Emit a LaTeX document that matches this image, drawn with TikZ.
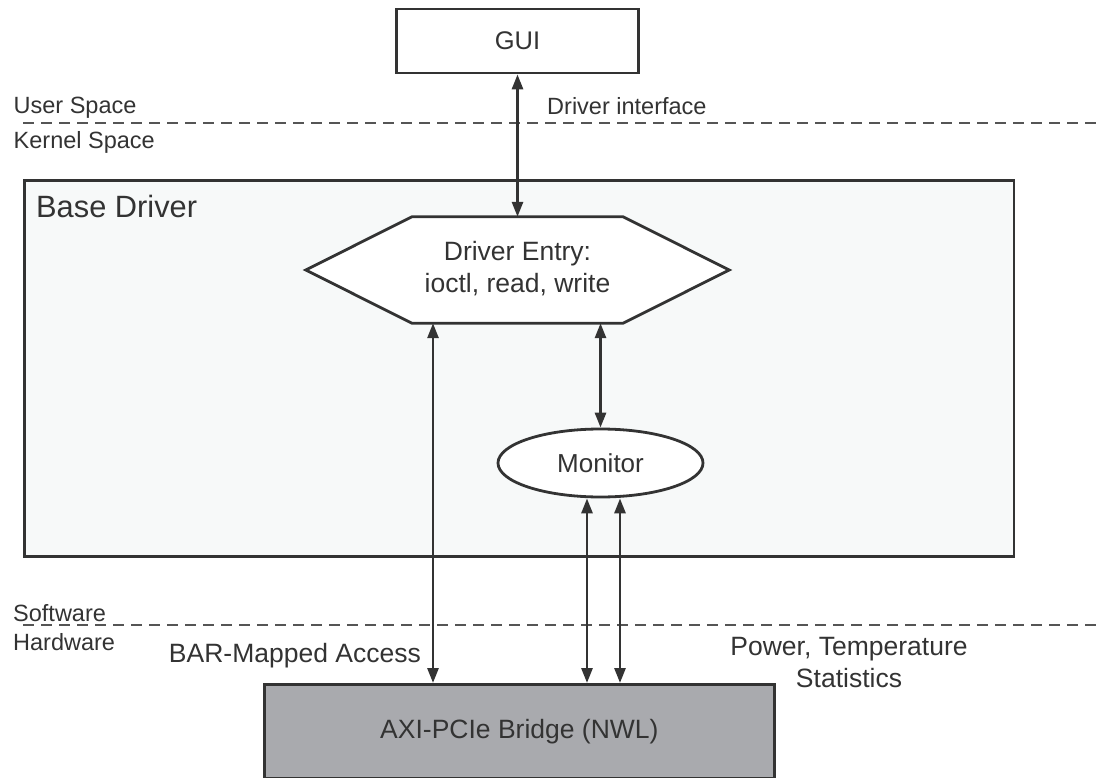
\documentclass[tikz,border=0pt]{standalone}
\usepackage{fontspec}
\setmainfont{Liberation Sans}
\usetikzlibrary{arrows.meta,shapes.geometric,calc}
\definecolor{ink}{HTML}{333333}
\definecolor{dashc}{HTML}{555555}
\definecolor{basefill}{HTML}{F7F9F9}
\definecolor{bridgefill}{HTML}{A9AAAE}
\newcommand{\fs}[1]{\fontsize{#1}{32}\selectfont}
\begin{document}
\begin{tikzpicture}[x=1pt,y=-1pt,
  every node/.style={text=ink, inner sep=0pt},
  box/.style={draw=ink, line width=2.8pt},
  biarrow/.style={draw=ink, line width=2.8pt, {Triangle[length=15pt,width=11pt]}-{Triangle[length=15pt,width=11pt]}},
  divider/.style={draw=dashc, line width=1.3pt, dash pattern=on 11pt off 7pt},
  sidelabel/.style={anchor=base west, font=\fs{23.5}},
  lbl/.style={font=\fs{26.5}}]

\useasboundingbox (0,0) rectangle (1097,778);

% base driver box
\node[box, fill=basefill, minimum width=989.5pt, minimum height=376pt, anchor=north west] (base) at (23,179) {};
\node[anchor=base west, font=\fs{30.8}] (bd) at (36,218) {Base Driver};

% dividers
\coordinate (d1a) at (23,123);
\coordinate (d1b) at (1097,123);
\coordinate (d2a) at (23,625);
\coordinate (d2b) at (1097,625);
\draw[divider] (d1a) -- (d1b);
\draw[divider] (d2a) -- (d2b);

% GUI
\node[box, fill=white, minimum width=242pt, minimum height=64pt, font=\fs{25.5}] (gui) at (517.5,41) {GUI};

% hexagon
\node[minimum width=423pt, minimum height=106pt] (hexframe) at (517.5,270) {};
\draw[box, fill=white] (hexframe.west) -- ($(hexframe.north west)+(106,0)$) -- ($(hexframe.north east)+(-106,0)$)
  -- (hexframe.east) -- ($(hexframe.south east)+(-106,0)$) -- ($(hexframe.south west)+(106,0)$) -- cycle;
\node[align=center, lbl] (hex) at (517.5,269) {Driver Entry:\\ioctl, read, write};

% monitor
\node[box, ellipse, fill=white, minimum width=205pt, minimum height=68pt, font=\fs{26}] (mon) at (600.5,463) {Monitor};

% bridge
\node[box, fill=bridgefill, minimum width=510pt, minimum height=94pt, anchor=north west, lbl] (bridge) at (263,683) {AXI-PCIe Bridge (NWL)};

% connectors
\draw[biarrow] (gui.south) -- (hexframe.north);
\draw[biarrow] ([xshift=-84.5pt]hexframe.south) -- ([xshift=-84.5pt]hexframe.south |- bridge.north);
\draw[biarrow] (mon.north |- hexframe.south) -- (mon.north);
\draw[biarrow] ([xshift=-13.5pt]mon.south) -- ([xshift=-13.5pt]mon.south |- bridge.north);
\draw[biarrow] ([xshift=19.5pt]mon.south) -- ([xshift=19.5pt]mon.south |- bridge.north);

% labels
\node[sidelabel] (us) at (13.5,114) {User Space};
\node[sidelabel] (ks) at (13.5,149) {Kernel Space};
\node[sidelabel] (di) at (547,115) {Driver interface};
\node[sidelabel] (sw) at (13,621) {Software};
\node[sidelabel] (hw) at (13,650) {Hardware};
\node[anchor=base east, lbl] (bar) at (421,662) {BAR-Mapped Access};
\node[lbl, align=center, anchor=base] (pts) at (849,687) {Power, Temperature\\Statistics};
\end{tikzpicture}
\end{document}
